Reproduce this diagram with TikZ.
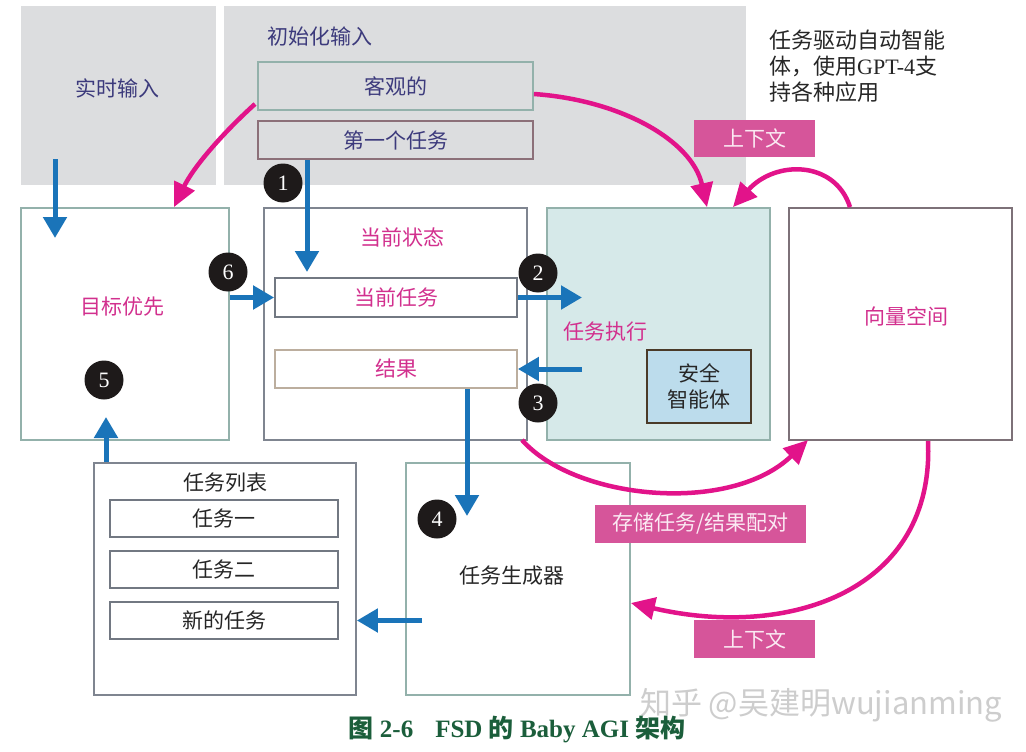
\documentclass[tikz,border=0pt]{standalone}
\usepackage{fontspec}
\setmainfont{Liberation Serif}
\newfontfamily\cjk{Noto Sans CJK SC}
\usetikzlibrary{arrows.meta,calc}
\definecolor{bgray}{HTML}{DCDDDF}
\definecolor{navy}{HTML}{3C3A7C}
\definecolor{mag}{HTML}{D2308E}
\definecolor{darktxt}{HTML}{262626}
\definecolor{tealb}{HTML}{93B1AB}
\definecolor{mauveb}{HTML}{8C7079}
\definecolor{grayb}{HTML}{7F8590}
\definecolor{tanb}{HTML}{BCAE9E}
\definecolor{vecb}{HTML}{7D7178}
\definecolor{execfill}{HTML}{D6E9E9}
\definecolor{safefill}{HTML}{BCDCEC}
\definecolor{safeb}{HTML}{4A3A28}
\definecolor{bluea}{HTML}{1A74B9}
\definecolor{pinka}{HTML}{E2138A}
\definecolor{tagfill}{HTML}{D6559A}
\definecolor{tagtxt}{HTML}{FBEAF3}
\definecolor{numfill}{HTML}{1E1A1A}
\definecolor{capgreen}{HTML}{1B5E3B}
\definecolor{wmark}{HTML}{CDCDCD}
\begin{document}
\begin{tikzpicture}[x=1pt,y=-1pt,
  box/.style={draw, line width=1.8pt, inner sep=0pt},
  bgbox/.style={fill=bgray, inner sep=0pt},
  txt/.style={font=\cjk\fontsize{21}{26}\selectfont, inner sep=0pt},
  tag/.style={fill=tagfill, inner sep=0pt, text=tagtxt, font=\cjk\fontsize{21}{26}\selectfont},
  num/.style={circle, fill=numfill, text=white, minimum size=39pt, inner sep=0pt, font=\fontsize{22}{22}\selectfont},
  barrow/.style={draw=bluea, line width=5pt, -{Triangle[length=21pt,width=23pt]}},
  parrow/.style={draw=pinka, line width=4.5pt, -{Triangle[length=24pt,width=22pt]}}
]
\fill[white] (0,0) rectangle (1026,752);
\useasboundingbox (0,0) rectangle (1026,752);

% gray input panels
\node[bgbox, minimum width=195pt, minimum height=179pt] (rt) at (118.5,95.5) {};
\node[bgbox, minimum width=522pt, minimum height=179pt] (init) at (485,95.5) {};
\node[txt, text=navy] (rtlabel) at (117,88) {实时输入};
\node[txt, text=navy] (initlabel) at (320,36) {初始化输入};
\node[box, draw=tealb, fill=bgray, minimum width=275pt, minimum height=48pt, txt, text=navy] (obj) at (395.5,86) {客观的};
\node[box, draw=mauveb, fill=bgray, minimum width=275pt, minimum height=38pt, txt, text=navy] (first) at (395.5,140) {第一个任务};

% note text
\node[anchor=west, inner sep=0pt, align=left, text=darktxt, font=\cjk\fontsize{22}{26}\selectfont] (note) at (769,66)
  {任务驱动自动智能\\体，使用{\rmfamily GPT-4}支\\持各种应用};

% main boxes
\node[box, draw=tealb, minimum width=208pt, minimum height=232pt] (goal) at (125,324) {};
\node[txt, text=mag] (goallabel) at (122,307) {目标优先};
\node[box, draw=grayb, minimum width=263pt, minimum height=232pt] (state) at (395.5,324) {};
\node[txt, text=mag] (statelabel) at (402,237) {当前状态};
\node[box, draw=grayb!90!black, minimum width=242pt, minimum height=39pt, txt, text=mag] (cur) at (396,297.5) {当前任务};
\node[box, draw=tanb, minimum width=242pt, minimum height=38pt, txt, text=mag] (res) at (396,369) {结果};
\node[box, draw=tealb, fill=execfill, minimum width=223pt, minimum height=232pt] (exec) at (658.5,324) {};
\node[txt, text=mag] (execlabel) at (605,332) {任务执行};
\node[box, draw=safeb, line width=2.2pt, fill=safefill, minimum width=104pt, minimum height=73pt, txt, text=darktxt, align=center] (safe) at (699,386.5) {安全\\智能体};
\node[box, draw=vecb, minimum width=223pt, minimum height=232pt] (vec) at (900.5,324) {};
\node[txt, text=mag] (veclabel) at (906,316) {向量空间};

% bottom boxes
\node[box, draw=grayb, minimum width=262pt, minimum height=232pt] (list) at (225,579) {};
\node[txt, text=darktxt] (listlabel) at (225,483) {任务列表};
\node[box, draw=grayb!90!black, minimum width=228pt, minimum height=37pt, txt, text=darktxt] (t1) at (224,518.5) {任务一};
\node[box, draw=grayb!90!black, minimum width=228pt, minimum height=37pt, txt, text=darktxt] (t2) at (224,569.5) {任务二};
\node[box, draw=grayb!90!black, minimum width=228pt, minimum height=37pt, txt, text=darktxt] (t3) at (224,620.5) {新的任务};
\node[box, draw=tealb, minimum width=224pt, minimum height=232pt] (gen) at (518,579) {};
\node[txt, text=darktxt] (genlabel) at (512,576) {任务生成器};

% tags
\node[tag, minimum width=121pt, minimum height=37pt] (ctx1) at (754.5,138.5) {上下文};
\node[tag, minimum width=211pt, minimum height=38pt] (store) at (700.5,524) {存储任务/结果配对};
\node[tag, minimum width=121pt, minimum height=38pt] (ctx2) at (754.5,639) {上下文};

% blue arrows
\coordinate (a0s) at (55,159);
\coordinate (a0e) at (55,238);
\draw[barrow] (a0s) -- (a0e);
\coordinate (a1e) at (307,272);
\draw[barrow] (first.south -| a1e) -- (a1e);
\draw[barrow] (goal.east |- cur.west) -- (cur.west);
\coordinate (a2e) at (582,297.5);
\draw[barrow] (cur.east) -- (a2e);
\coordinate (a3s) at (582,369);
\draw[barrow] (a3s) -- (res.east);
\coordinate (a4e) at (467,516);
\draw[barrow] (res.south -| a4e) -- (a4e);
\coordinate (a5e) at (106,417);
\draw[barrow] (list.north -| a5e) -- (a5e);
\coordinate (a7s) at (422,620.5);
\draw[barrow] (a7s) -- (list.east |- t3.east);

% pink arrows
\coordinate (p1s) at (255,104);
\coordinate (p1x) at (174,0);
\draw[parrow] (p1s) .. controls (224,132) and (194,166) .. (goal.north -| p1x);
\coordinate (p2s) at (533,94);
\coordinate (p2x) at (707,0);
\draw[parrow] (obj.east |- p2s) .. controls (620,100) and (692,140) .. (exec.north -| p2x);
\coordinate (p3x) at (850,0);
\coordinate (p3e) at (733,0);
\draw[parrow] (vec.north -| p3x) .. controls (835,160) and (775,160) .. (exec.north -| p3e);
\coordinate (p4s) at (522,440);
\coordinate (p4e) at (808,440);
\draw[parrow] (p4s) .. controls (575,500) and (730,515) .. (p4e);
\coordinate (p5x) at (928,0);
\coordinate (p5e) at (0,603);
\draw[parrow] (vec.south -| p5x) .. controls (935,590) and (790,640) .. (gen.east |- p5e);

% numbered circles
\node[num] (c1) at (283,183) {1};
\node[num] (c2) at (538,273) {2};
\node[num] (c3) at (538,403) {3};
\node[num] (c4) at (437,519) {4};
\node[num] (c5) at (104,380) {5};
\node[num] (c6) at (228,272) {6};

% watermark
\node[inner sep=0pt, text=wmark, font=\cjk\fontsize{31}{36}\selectfont] (wm) at (821,705) {知乎 @吴建明wujianming};

% caption
\node[inner sep=0pt, text=capgreen, font=\fontsize{25}{30}\selectfont\bfseries] (cap) at (517,730)
  {{\cjk\bfseries 图} 2-6\hspace{22pt}FSD {\cjk\bfseries 的} Baby AGI {\cjk\bfseries 架构}};
\end{tikzpicture}
\end{document}
